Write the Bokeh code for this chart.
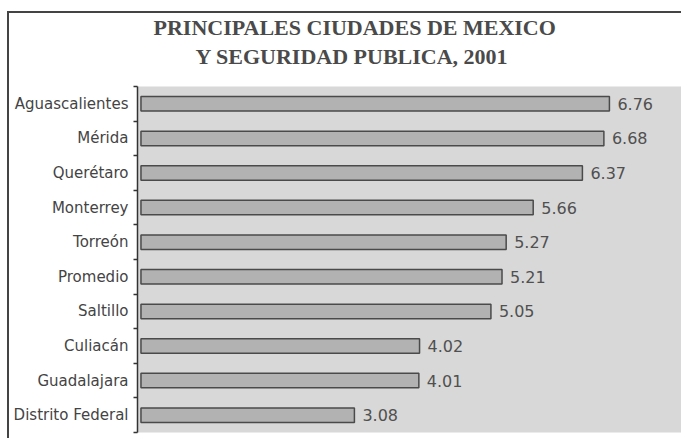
from bokeh.plotting import figure
from bokeh.models import FixedTicker, Title, ColumnDataSource
from bokeh.core.properties import value
from bokeh.embed import file_html
from bokeh.resources import INLINE

cities = ["Aguascalientes", "Mérida", "Querétaro", "Monterrey", "Torreón",
          "Promedio", "Saltillo", "Culiacán", "Guadalajara", "Distrito Federal"]
scores = [6.76, 6.68, 6.37, 5.66, 5.27, 5.21, 5.05, 4.02, 4.01, 3.08]
labels = ["6.76", "6.68", "6.37", "5.66", "5.27", "5.21", "5.05", "4.02", "4.01", "3.08"]
title_line1 = "PRINCIPALES CIUDADES DE MEXICO"
title_line2 = "Y SEGURIDAD PUBLICA, 2001"

n = len(cities)
ypos = [n - i - 0.5 for i in range(n)]
src = ColumnDataSource(dict(city=cities, score=scores, label=labels, y=ypos))

p = figure(width=681, height=438, output_backend="svg", toolbar_location=None,
           x_range=(-0.05, 7.80), y_range=(0, n), x_axis_location=None,
           min_border_left=137, min_border_right=0, min_border_top=86,
           min_border_bottom=6,
           title=title_line1)

p.title.text_font = "Liberation Serif"
p.title.text_font_size = "22px"
p.title.text_font_style = "bold"
p.title.text_color = "#4a4a4a"
p.title.align = "left"
p.title.offset = 16
p.title.standoff = -33

t2 = Title(text=title_line2, text_font="Liberation Serif", text_font_size="22px",
           text_font_style="bold", text_color="#4a4a4a", align="left", offset=58,
           standoff=36)
p.add_layout(t2, "above")

p.background_fill_color = "#d8d8d8"
p.border_fill_color = None
p.outline_line_color = None
p.grid.visible = False

# outer frame of the printed chart (left and top rules)
p.styles = {
    "background": "linear-gradient(#444,#444) 7px 11px / 2px 100% no-repeat, "
                  "linear-gradient(#444,#444) 7px 11px / 100% 2px no-repeat, white"
}

p.hbar(y="y", right="score", left=0, height=0.42, source=src,
       fill_color="#b2b2b2", line_color="#4a4a4a", line_width=1.5)

p.text(x="score", y="y", text="label", source=src, x_offset=8,
       text_baseline="middle", text_align="left",
       text_font=value("DejaVu Sans"), text_font_size="16px", text_color="#505050")

ax = p.yaxis[0]
ax.ticker = FixedTicker(ticks=ypos, minor_ticks=list(range(n + 1)))
ax.major_label_overrides = {y: c for y, c in zip(ypos, cities)}
ax.major_tick_out = 0
ax.major_tick_in = 0
ax.minor_tick_out = 4
ax.minor_tick_in = 0
ax.minor_tick_line_color = "#333333"
ax.minor_tick_line_width = 1.5
ax.axis_line_color = "#333333"
ax.axis_line_width = 1.5
ax.major_label_text_font = "DejaVu Sans"
ax.major_label_text_font_size = "15px"
ax.major_label_text_color = "#444444"
ax.major_label_standoff = 5

open("out.html", "w").write(file_html(p, INLINE))
